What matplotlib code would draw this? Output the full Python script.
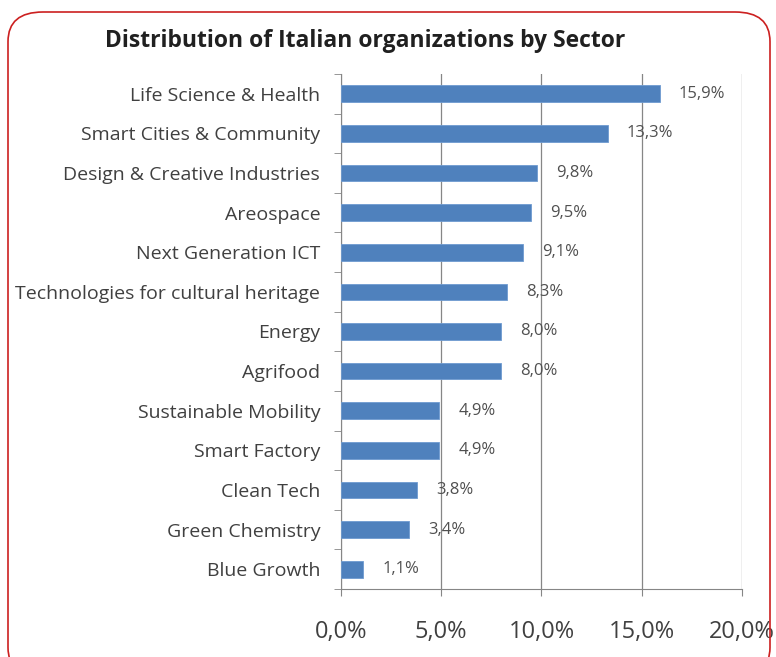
import matplotlib.pyplot as plt
from matplotlib.patches import FancyBboxPatch

sectors = ["Life Science & Health", "Smart Cities & Community", "Design & Creative Industries",
           "Areospace", "Next Generation ICT", "Technologies for cultural heritage",
           "Energy", "Agrifood", "Sustainable Mobility", "Smart Factory", "Clean Tech",
           "Green Chemistry", "Blue Growth"]
share = [15.9, 13.3, 9.8, 9.5, 9.1, 8.3, 8.0, 8.0, 4.9, 4.9, 3.8, 3.4, 1.1]
xticks = [0, 5, 10, 15, 20]

plt.rcParams['font.family'] = ['Open Sans', 'DejaVu Sans']

fig = plt.figure(figsize=(7.76, 6.57), dpi=100)
ax = fig.add_axes([0.4394, 0.1035, 0.5168, 0.784])

y = list(range(len(sectors)))[::-1]
ax.barh(y, share, height=0.42, color='#4F81BD', edgecolor='#6F9BD0', linewidth=0.6, zorder=3)
for yi, v in zip(y, share):
    ax.text(v + 0.95, yi, f"{v:.1f}%".replace('.', ','), va='center', ha='left',
            fontsize=12, color='#505050', zorder=4)

ax.set_xlim(0, 20)
ax.set_ylim(-0.5, len(sectors) - 0.5)
ax.set_xticks(xticks)
ax.set_xticklabels([f"{t:.1f}%".replace('.', ',') for t in xticks], fontsize=17, color='#404040')
ax.set_yticks(y)
ax.set_yticklabels(sectors, fontsize=14, color='#404040')
ax.set_yticks([i + 0.5 for i in range(-1, len(sectors))], minor=True)
ax.tick_params(axis='y', which='major', length=0, pad=15)
ax.tick_params(axis='y', which='minor', length=5, color='#868686', direction='out')
ax.tick_params(axis='x', length=5, color='#868686', pad=17)
ax.grid(axis='x', color='#868686', linewidth=0.9, zorder=0)
for s in ['top', 'right']:
    ax.spines[s].set_visible(False)
for s in ['left', 'bottom']:
    ax.spines[s].set_color('#868686')

fig.text(0.47, 0.938, "Distribution of Italian organizations by Sector", ha='center', va='center',
         fontsize=16.5, fontweight='bold', color='#202020')

border = FancyBboxPatch((8 / 776, -20 / 657), 762 / 776, 665 / 657,
                        boxstyle="round,pad=0,rounding_size=0.045",
                        transform=fig.transFigure, fill=False, edgecolor='#CC2020', linewidth=1.2)
fig.patches.append(border)

fig.savefig('out.png', dpi=100)
